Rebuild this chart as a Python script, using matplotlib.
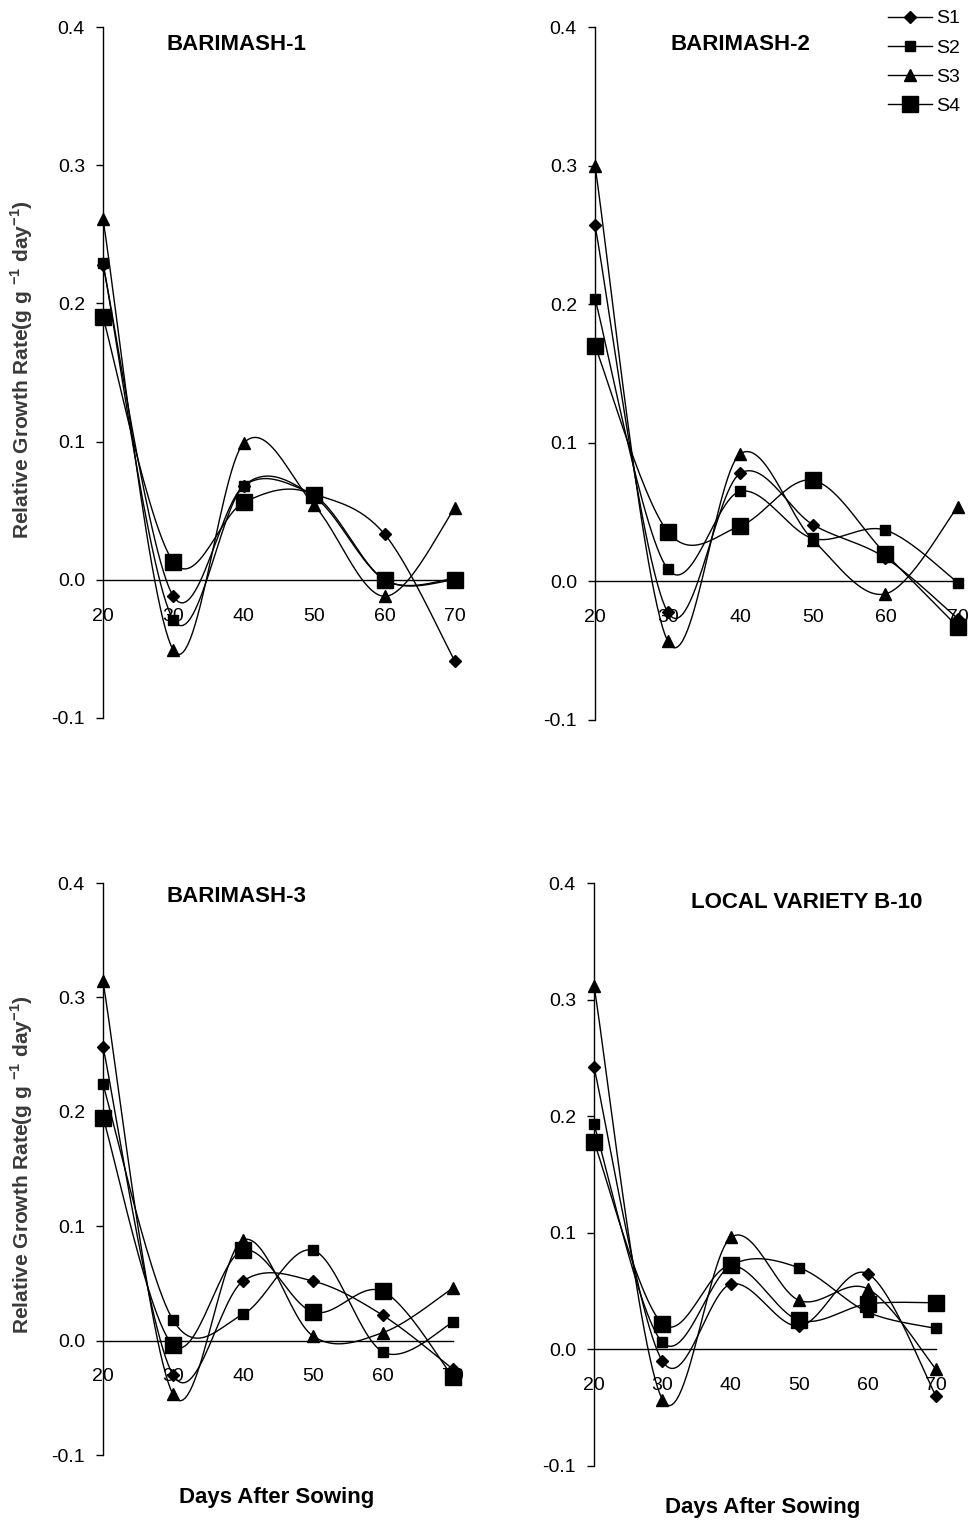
import numpy as np
from matplotlib import pyplot as plt
from matplotlib.lines import Line2D

days = [20, 30, 40, 50, 60, 70]

b1_s1 = [0.228, -0.012, 0.068, 0.062, 0.033, -0.059]
b1_s2 = [0.229, -0.029, 0.068, 0.060, 0.000, 0.001]
b1_s3 = [0.261, -0.051, 0.099, 0.054, -0.012, 0.052]
b1_s4 = [0.190, 0.013, 0.056, 0.061, 0.000, 0.000]

b2_s1 = [0.257, -0.022, 0.078, 0.041, 0.017, -0.027]
b2_s2 = [0.204, 0.009, 0.065, 0.031, 0.037, -0.001]
b2_s3 = [0.300, -0.043, 0.092, 0.030, -0.009, 0.054]
b2_s4 = [0.170, 0.036, 0.040, 0.073, 0.020, -0.033]

b3_s1 = [0.257, -0.030, 0.052, 0.052, 0.022, -0.025]
b3_s2 = [0.224, 0.018, 0.023, 0.079, -0.010, 0.016]
b3_s3 = [0.314, -0.047, 0.088, 0.004, 0.007, 0.046]
b3_s4 = [0.195, -0.004, 0.079, 0.025, 0.043, -0.032]

lv_s1 = [0.242, -0.010, 0.056, 0.020, 0.065, -0.040]
lv_s2 = [0.193, 0.006, 0.072, 0.070, 0.032, 0.018]
lv_s3 = [0.312, -0.043, 0.096, 0.042, 0.052, -0.017]
lv_s4 = [0.178, 0.022, 0.072, 0.025, 0.039, 0.040]

series_names = ['S1', 'S2', 'S3', 'S4']
titles = ['BARIMASH-1', 'BARIMASH-2', 'BARIMASH-3', 'LOCAL VARIETY B-10']
yticks = [-0.1, 0.0, 0.1, 0.2, 0.3, 0.4]

panels = [
    [b1_s1, b1_s2, b1_s3, b1_s4],
    [b2_s1, b2_s2, b2_s3, b2_s4],
    [b3_s1, b3_s2, b3_s3, b3_s4],
    [lv_s1, lv_s2, lv_s3, lv_s4],
]

styles = [('D', 6.5), ('s', 6.5), ('^', 8.5), ('s', 11.5)]

W, H = 970, 1521
# axes boxes in pixels: x of day 20, x of day 70, y of 0.4, y of -0.1
boxes = [(103, 455, 27, 718), (595, 958, 27, 720),
         (103, 453, 883, 1455), (594, 936, 883, 1466)]
title_pos = [(236, 45), (740, 45), (236, 897), (807, 902)]

FONT = 'Liberation Sans'


def smooth(x, y, n=30):
    # excel-like smoothed line (catmull-rom bezier)
    x = np.asarray(x, float)
    y = np.asarray(y, float)
    px = np.concatenate([[x[0]], x, [x[-1]]])
    py = np.concatenate([[y[0]], y, [y[-1]]])
    xs, ys = [], []
    t = np.linspace(0, 1, n)
    for i in range(1, len(px) - 2):
        p0 = np.array([px[i], py[i]])
        p3 = np.array([px[i + 1], py[i + 1]])
        p1 = p0 + (np.array([px[i + 1], py[i + 1]]) - np.array([px[i - 1], py[i - 1]])) / 6
        p2 = p3 - (np.array([px[i + 2], py[i + 2]]) - np.array([px[i], py[i]])) / 6
        b = ((1 - t) ** 3)[:, None] * p0 + (3 * (1 - t) ** 2 * t)[:, None] * p1 \
            + (3 * (1 - t) * t ** 2)[:, None] * p2 + (t ** 3)[:, None] * p3
        xs.extend(b[:, 0])
        ys.extend(b[:, 1])
    return xs, ys


fig = plt.figure(figsize=(W / 100, H / 100), dpi=100)

for k, (data, box) in enumerate(zip(panels, boxes)):
    x0, x1, ytop, ybot = box
    ax = fig.add_axes([x0 / W, 1 - ybot / H, (x1 - x0) / W, (ybot - ytop) / H])
    for vals, (m, ms) in zip(data, styles):
        sx, sy = smooth(days, vals)
        ax.plot(sx, sy, color='black', lw=1.0, clip_on=False)
        ax.plot(days, vals, ls='none', marker=m, ms=ms, color='black', clip_on=False)

    ax.set_xlim(20, 70)
    ax.set_ylim(-0.1, 0.4)
    ax.spines['top'].set_visible(False)
    ax.spines['right'].set_visible(False)
    ax.spines['bottom'].set_position(('data', 0))
    ax.spines['left'].set_linewidth(1.0)
    ax.spines['bottom'].set_linewidth(1.0)
    ax.set_xticks(days)
    ax.set_yticks(yticks)
    ax.set_yticklabels([f'{v:.1f}' for v in yticks])
    ax.tick_params(axis='y', direction='out', length=5, width=1, pad=8,
                   labelsize=14)
    ax.tick_params(axis='x', direction='out', length=0, pad=20, labelsize=14)
    for lab in ax.get_xticklabels() + ax.get_yticklabels():
        lab.set_fontfamily(FONT)
    ax.patch.set_visible(False)

    tx, ty = title_pos[k]
    fig.text(tx / W, 1 - ty / H, titles[k], ha='center', va='center',
             fontsize=16, fontweight='bold', family=FONT)

ylabel = 'Relative Growth Rate(g g $^{\\mathregular{-1}}$ day$^{\\mathregular{-1}}$)'
for yc in [370, 1165]:
    fig.text(22 / W, 1 - yc / H, ylabel, rotation=90, ha='center', va='center',
             fontsize=15, fontweight='bold', family=FONT, color='#3a3a3a')

fig.text(277 / W, 1 - 1497 / H, 'Days After Sowing', ha='center', va='center',
         fontsize=16, fontweight='bold', family=FONT)
fig.text(763 / W, 1 - 1507 / H, 'Days After Sowing', ha='center', va='center',
         fontsize=16, fontweight='bold', family=FONT)

handles = [Line2D([], [], color='black', lw=1.0, marker=m, ms=ms)
           for m, ms in styles]
fig.legend(handles, series_names, loc='upper right', bbox_to_anchor=(1.0, 1.0),
           frameon=False, handlelength=2.3, handletextpad=0.2,
           labelspacing=0.6, borderpad=0.45, borderaxespad=0.05,
           prop={'family': FONT, 'size': 14})

fig.savefig('out.png', dpi=100)
